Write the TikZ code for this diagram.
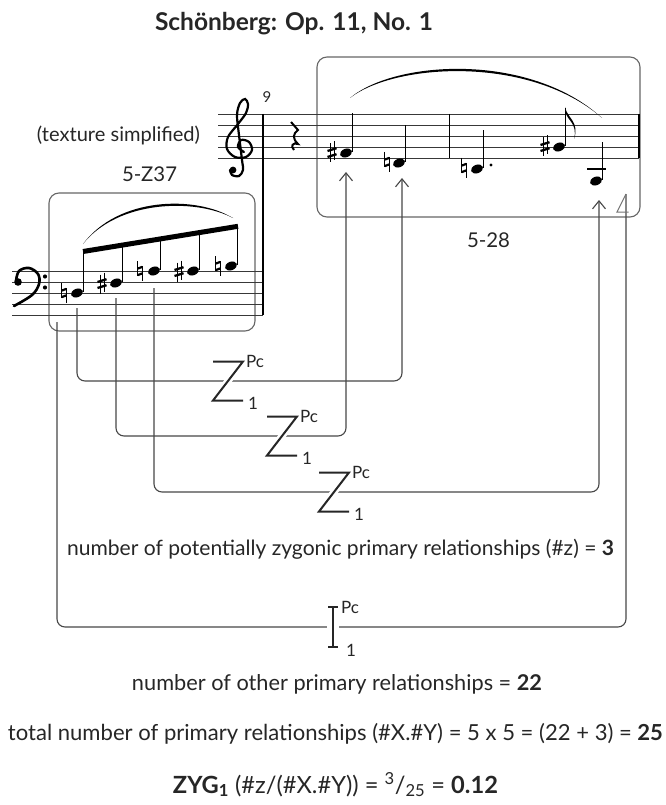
\documentclass[tikz,border=0pt]{standalone}
\usepackage{graphicx}
\usepackage{fontspec}
\setmainfont{Lato}
\usetikzlibrary{arrows.meta,shapes.geometric}
\newcommand\fitw[2]{\resizebox{#1}{!}{#2}}
\tikzset{
  staffl/.style={line width=0.9pt, draw=black!78},
  setbox/.style={draw=black!60, line width=1.1pt, rounded corners=10pt},
  conn/.style={draw=black!72, line width=1.1pt, rounded corners=8pt},
  tipv/.style={-{Straight Barb[length=8pt,width=13pt,line width=1.1pt]}},
  nh/.style={ellipse, fill=black, draw=none, inner sep=0pt, minimum width=12.5pt, minimum height=8.5pt, rotate=20},
  stemln/.style={line width=1pt, draw=black},
  txt/.style={inner sep=0pt, anchor=base, font=\fontsize{20}{24}\selectfont, text=black!85},
  small/.style={inner sep=0pt, anchor=base west, font=\fontsize{17}{19}\selectfont, text=black!85},
  sharpsym/.pic={
    \draw[line width=0.9pt] (-2,-8.5)--(-2,10.5) (2.2,-10.5)--(2.2,8.5);
    \draw[line width=2.3pt] (-4.5,-1)--(4.5,-3.8) (-4.5,5)--(4.5,2.2);
  },
  natsym/.pic={
    \draw[line width=0.9pt] (-2.5,-10)--(-2.5,5) (2.5,-5)--(2.5,10);
    \draw[line width=2.2pt] (-2.5,-2.3)--(2.5,-4.2) (-2.5,4.2)--(2.5,2.3);
  },
  zsym/.pic={
    \draw[white, line width=7pt] (10,-13) -- (-10,13);
    \draw[line width=2pt, black!85] (-15,-19.5) -- (15,-19.5) -- (-15,19.5) -- (15,19.5);
    \node[small] (-pc) at (18,-14) {Pc};
    \node[small] (-one) at (20,28) {1};
  },
  isym/.pic={
    \fill[white] (-6,-3) rectangle (6,3);
    \draw[line width=2pt, black!85] (0,-20) -- (0,20) (-5,-20) -- (5,-20) (-5,20) -- (5,20);
    \node[small] (-pc) at (8,-14) {Pc};
    \node[small] (-one) at (13,29) {1};
  }
}
\begin{document}
\begin{tikzpicture}[x=1pt,y=-1pt]
\useasboundingbox (0,0) rectangle (665,805);

% title and labels
\node[txt] (title) at (294,31) {\fitw{278pt}{\bfseries Schönberg: Op. 11, No. 1}};
\node[txt] (texture) at (118.5,142) {\fitw{163pt}{(texture simplified)}};
\node[txt, font=\fontsize{15}{18}\selectfont] (nine) at (267,103) {9};
\node[txt] (lz37) at (149.5,182) {\fitw{55pt}{5-Z37}};
\node[txt] (l28) at (488.5,247) {\fitw{43pt}{5-28}};

% set boxes
\draw[setbox] (49,193) rectangle (255,331);
\draw[setbox] (317,57) rectangle (640,217);

% staves
\foreach \yy in {114,125,136,147,158} \draw[staffl] (218,\yy) -- (639,\yy);
\foreach \yy in {271,282,293,304,315} \draw[staffl] (12,\yy) -- (263,\yy);
\draw[line width=1.1pt] (263,114) -- (263,315);
\draw[line width=1pt] (449,114) -- (449,158);
\draw[line width=1.4pt] (639,114) -- (639,158);

% treble clef
\draw[line width=2.2pt, line cap=round] plot[smooth, tension=0.55] coordinates {
 (244,152) (238,147) (241,140) (249,142) (252,150) (246,157) (235,157) (227,149)
 (228,137) (238,124) (246,113) (248,104) (245,99) (240,103) (237,115) (239,135)
 (242,160) (243,170) (239,176) (232,175) (230,170)};
\fill (233,170) circle (3.4);

% bass clef
\fill (18,282) circle (3.8);
\draw[line width=2.6pt, line cap=round] plot[smooth, tension=0.6] coordinates {
 (16,281) (19,271) (29,268) (38,274) (39,284) (32,295) (14,306)};
\fill (45,276.5) circle (2.1) (45,287.5) circle (2.1);

% quarter rest
\draw[line width=2pt] (291,122) -- (298,130) .. controls (293,134) and (292,138) .. (298,144)
  .. controls (293,142) and (290,146) .. (294,150);

% bass notes
\node[nh] (b1) at (77,293) {};
\node[nh] (b2) at (116,283) {};
\node[nh] (b3) at (154,271) {};
\node[nh] (b4) at (193,271) {};
\node[nh] (b5) at (231,266) {};
\pic at (64,293) {natsym};
\pic at (102,283) {sharpsym};
\pic at (140,271) {natsym};
\pic at (179,271) {sharpsym};
\pic at (218,266) {natsym};
\draw[stemln] (83.5,292) -- (83.5,251.5);
\draw[stemln] (122.5,282) -- (122.5,245.2);
\draw[stemln] (160.5,270) -- (160.5,239);
\draw[stemln] (199.5,270) -- (199.5,232.7);
\draw[stemln] (237.5,265) -- (237.5,226.5);
\draw[line width=5pt] (83,251.5) -- (238,226.3);
\fill (83,244) .. controls (118,197) and (195,195) .. (233,218)
      .. controls (195,198) and (118,200) .. (83,244) -- cycle;

% treble notes
\node[nh] (t1) at (346,153) {};
\node[nh] (t2) at (399,163) {};
\node[nh] (t3) at (477,169) {};
\node[nh] (t4) at (559,147) {};
\node[nh] (t5) at (596,181) {};
\pic at (332,152) {sharpsym};
\pic at (387,162) {natsym};
\pic at (464,168) {natsym};
\pic at (545,146) {sharpsym};
\fill (491,165) circle (1.7);
\draw[line width=1.1pt] (587,169) -- (606,169);
\draw[stemln] (352.5,152) -- (352.5,113);
\draw[stemln] (405.5,162) -- (405.5,125);
\draw[stemln] (483.5,168) -- (483.5,130);
\draw[stemln] (565.5,146) -- (565.5,108);
\draw[stemln] (602.5,180) -- (602.5,142);
\fill (565,107) .. controls (567,118) and (580,122) .. (574,139)
      .. controls (578,124) and (567,120) .. (566,113) -- cycle;
\fill (350,98) .. controls (395,60) and (530,52) .. (602,118)
      .. controls (530,55) and (395,63) .. (350,98) -- cycle;

% connector end points
\coordinate (sA) at (77,308);
\coordinate (sB) at (116,298);
\coordinate (sC) at (154,288);
\coordinate (sD) at (57,322);
\coordinate (eA) at (402,178);
\coordinate (eB) at (346,172);
\coordinate (eC) at (599,200);
\coordinate (eD) at (626,194);
\coordinate (zA) at (228,381);
\coordinate (zB) at (282,436);
\coordinate (zC) at (334,492);
\coordinate (zD) at (333,627);

\draw[conn, tipv] (sA) |- (zA) -| (eA);
\draw[conn, tipv] (sB) |- (zB) -| (eB);
\draw[conn, tipv] (sC) |- (zC) -| (eC);
\draw[conn] (sD) |- (zD) -| (eD);
\draw[black!55, line width=1pt] (eD) -- (617,212) -- (628.5,212);

\pic (zsA) at (zA) {zsym};
\pic (zsB) at (zB) {zsym};
\pic (zsC) at (zC) {zsym};
\pic (isD) at (zD) {isym};

% bottom texts
\node[txt] (zygtxt) at (340.5,555) {\fitw{547pt}{number of potentially zygonic primary relationships (\#z) = \textbf{3}}};
\node[txt] (othtxt) at (337,690) {\fitw{410pt}{number of other primary relationships = \textbf{22}}};
\node[txt] (tottxt) at (335.5,740) {\fitw{655pt}{total number of primary relationships (\#X.\#Y) = 5 x 5 = (22 + 3) = \textbf{25}}};
\node[txt] (zygone) at (335.5,793) {\fitw{325pt}{\textbf{ZYG\textsubscript{1}} (\#z/(\#X.\#Y)) = \textsuperscript{3}/\textsubscript{25} = \textbf{0.12}}};
\end{tikzpicture}
\end{document}
